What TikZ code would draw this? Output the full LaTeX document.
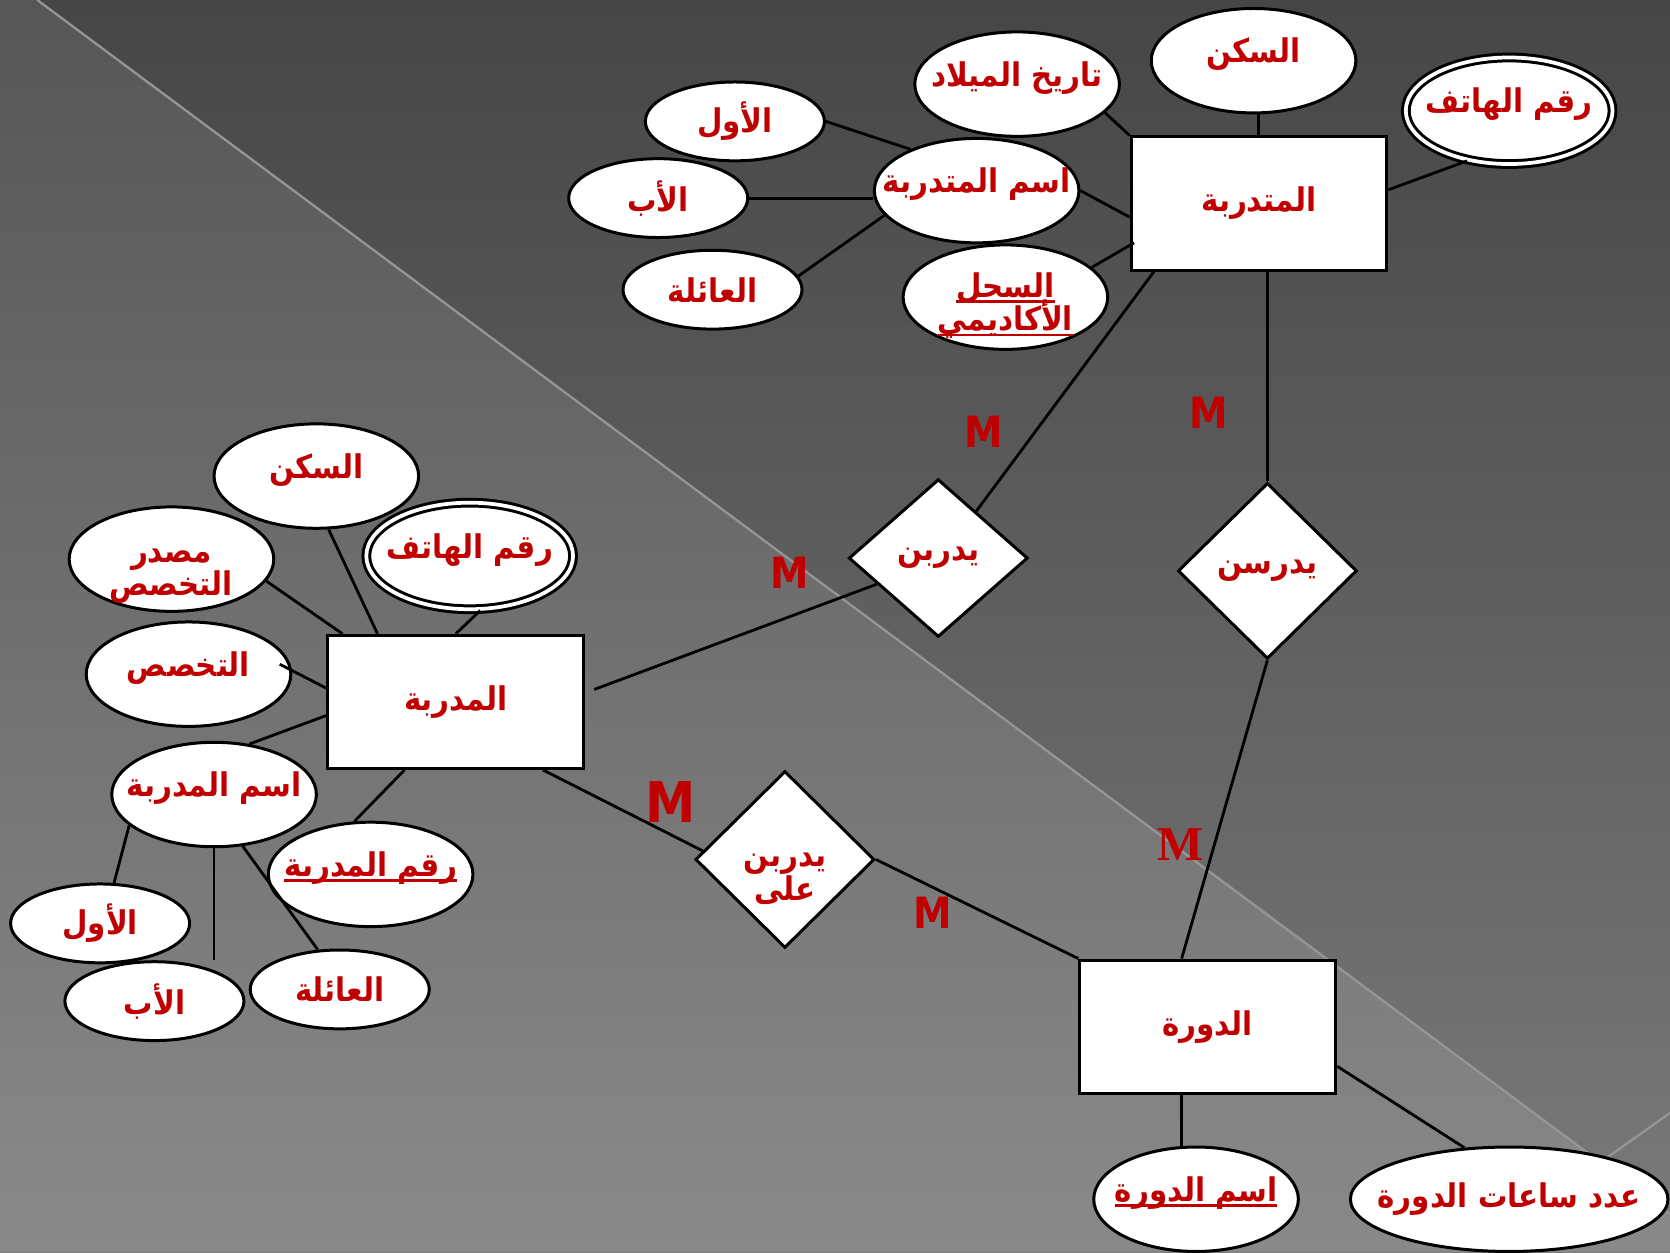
\documentclass[tikz,border=0pt]{standalone}
\usepackage{fontspec}
\usetikzlibrary{shapes.geometric}
\TeXXeTstate=1
\newfontfamily\arabicfont[Script=Arabic]{DejaVu Sans Condensed}
\newfontfamily\cardfont{DejaVu Sans Condensed}
\newfontfamily\cardseriffont{Liberation Serif}
\definecolor{erred}{RGB}{192,0,0}
\definecolor{bgtop}{RGB}{70,70,70}
\definecolor{bgbottom}{RGB}{122,122,122}
\definecolor{bglefttop}{RGB}{86,86,86}
\definecolor{bgleftbottom}{RGB}{137,137,137}
\definecolor{foldline}{RGB}{150,150,150}
\newcommand{\artext}[1]{\beginR#1\endR}
\newcommand{\arkey}[1]{\setbox0\hbox{\beginR#1\endR}\rlap{\rule[-0.16em]{\wd0}{0.07em}}\box0}
\newcommand{\tightlines}{\lineskiplimit=-100pt\relax}

\begin{document}
\begin{tikzpicture}[x=0.01cm, y=-0.01cm,
	entity/.style = {draw, fill=white, line width=0.8pt, minimum width=2.4cm, minimum height=1.25cm, inner sep=0pt, text=erred, font=\arabicfont\bfseries\fontsize{8.7}{9}\selectfont},
	attrbase/.style = {ellipse, draw, fill=white, line width=0.8pt, inner xsep=-2cm, inner ysep=-1cm, align=center, text=erred, font=\arabicfont\bfseries\fontsize{8.7}{9}\selectfont\tightlines},
	attr/.style = {attrbase, minimum width=1.92cm, minimum height=0.98cm, text height=0.16cm, text depth=0.12cm},
	plainattr/.style = {attrbase, minimum width=1.92cm, minimum height=0.98cm},
	smallattr/.style = {attrbase, minimum width=1.68cm, minimum height=0.74cm},
	multiattr/.style = {attr, double=white, double distance=1pt, minimum width=1.94cm, minimum height=1.0cm},
	relation/.style = {diamond, draw, fill=white, line width=0.8pt, minimum width=1.68cm, inner sep=-0.2cm, align=center, text=erred, font=\arabicfont\bfseries\fontsize{8.7}{9}\selectfont\tightlines},
	card/.style = {text=erred, inner sep=0pt, font=\cardfont\bfseries\fontsize{11.5}{11}\selectfont},
	link/.style = {line width=0.75pt},
	slideline/.style = {foldline, line width=0.6pt}]
	\useasboundingbox (0,0) rectangle (1568,1176);

	\coordinate (SlideTop) at (35,0);
	\coordinate (SlideEnd) at (1568,1140);
	\coordinate (SlideFold) at (1499,1094);
	\coordinate (SlideCorner) at (1568,1045);

	\shade[top color=bgtop, bottom color=bgbottom] (0,0) rectangle (1568,1176);
	\shade[top color=bglefttop, bottom color=bgleftbottom] (0,0) -- (SlideTop) -- (SlideEnd) -- (1568,1176) -- (0,1176) -- cycle;
	\draw[slideline] (SlideTop) -- (SlideEnd);
	\draw[slideline] (SlideFold) -- (SlideCorner);

	\node[entity] (Trainee) at (1182,191) {\artext{المتدربة}};
	\node[entity] (Trainer) at (428,659) {\artext{المدربة}};
	\node[entity] (Course) at (1134,964) {\artext{الدورة}};

	\node[relation, minimum height=1.48cm] (TrainRel) at (881,524) {\artext{يدربن}};
	\node[relation, minimum height=1.65cm] (StudyRel) at (1190,536) {\artext{يدرسن}};
	\node[relation, minimum height=1.66cm] (TrainOnRel) at (737,807) {\rule{0pt}{13.8pt}\artext{يدربن}\\\artext{على}};

	\node[attr] (TeeHome) at (1177,57) {\artext{السكن}};
	\node[attr] (TeeBirth) at (955,79) {\artext{تاريخ الميلاد}};
	\node[multiattr] (TeePhone) at (1417,104) {\artext{رقم الهاتف}};
	\node[attr] (TeeName) at (917,179) {\artext{اسم المتدربة}};
	\node[plainattr] (TeeRecord) at (944,279) {\rule{0pt}{11.2pt}\arkey{السجل}\\\arkey{الأكاديمي}};
	\node[smallattr] (TeeFirst) at (690,114) {\artext{الأول}};
	\node[smallattr] (TeeFather) at (618,186) {\artext{الأب}};
	\node[smallattr] (TeeFamily) at (669,272) {\artext{العائلة}};

	\node[attr] (TerHome) at (297,447) {\artext{السكن}};
	\node[plainattr] (TerSource) at (161,525) {\rule{0pt}{12.8pt}\artext{مصدر}\\\artext{التخصص}};
	\node[multiattr] (TerPhone) at (441,522) {\artext{رقم الهاتف}};
	\node[attr] (TerMajor) at (177,633) {\artext{التخصص}};
	\node[attr] (TerName) at (201,746) {\artext{اسم المدربة}};
	\node[attr] (TerId) at (348,821) {\arkey{رقم المدربة}};
	\node[smallattr] (TerFirst) at (94,867) {\artext{الأول}};
	\node[smallattr] (TerFather) at (145,940) {\artext{الأب}};
	\node[smallattr] (TerFamily) at (319,929) {\artext{العائلة}};

	\node[attr] (CourseName) at (1123,1126) {\arkey{اسم الدورة}};
	\node[plainattr, minimum width=2.98cm] (CourseHours) at (1417,1126) {\artext{عدد ساعات الدورة}};

	\draw[link] (TeeBirth.-18) -- (Trainee.north west);
	\draw[link] (TeeHome.south -| Trainee.north) -- (Trainee.north);
	\draw[link] (TeePhone.-130) -- (Trainee.6);
	\draw[link] (TeeName.east) -- (Trainee.186);
	\draw[link, shorten >=-0.05cm] (TeeRecord.19) -- (Trainee.198);
	\draw[link] (TeeFirst.east) -- (TeeName.148);
	\draw[link] (TeeFather.east) -- (TeeFather.east -| TeeName.west);
	\draw[link] (TeeFamily.9) -- (TeeName.195);

	\draw[link] (Trainee.213) -- (TrainRel.51);
	\draw[link] (StudyRel.north |- Trainee.south) -- (StudyRel.north);
	\draw[link] (StudyRel.south) -- (Course.111);
	\draw[link, shorten >=0.09cm] (TrainRel.203) -- (Trainer.4);
	\draw[link] (Trainer.-38) -- (TrainOnRel.174);
	\draw[link] (TrainOnRel.east) -- (Course.north west);

	\draw[link] (TerHome.-77) -- (Trainer.139);
	\draw[link] (TerSource.-13) -- (Trainer.149);
	\draw[link] (TerPhone.-79) -- (Trainer.north);
	\draw[link, shorten <=-0.13cm] (TerMajor.2) -- (Trainer.174);
	\draw[link] (TerName.55) -- (Trainer.186);
	\draw[link] (TerId.107) -- (Trainer.233);
	\draw[link] (TerName.200) -- (TerFirst.71);
	\draw[link] (TerName.south) -- (TerName.south |- TerFather.north);
	\draw[link] (TerName.-61) -- (TerFamily.119);

	\draw[link] (Course.-111) -- (Course.-111 |- CourseName.north);
	\draw[link] (Course.-17) -- (CourseHours.131);

	\node[card] (MTrainTee) at (924,405) {M};
	\node[card] (MTrainTer) at (742,538) {M};
	\node[card] (MStudyTee) at (1135,388) {M};
	\node[card, font=\cardseriffont\bfseries\fontsize{13}{13}\selectfont] (MStudyCourse) at (1108,793) {M};
	\node[card, font=\cardfont\bfseries\fontsize{15}{15}\selectfont] (MTrainOnTer) at (630,753) {M};
	\node[card] (MTrainOnCourse) at (876,857) {M};
\end{tikzpicture}
\end{document}
